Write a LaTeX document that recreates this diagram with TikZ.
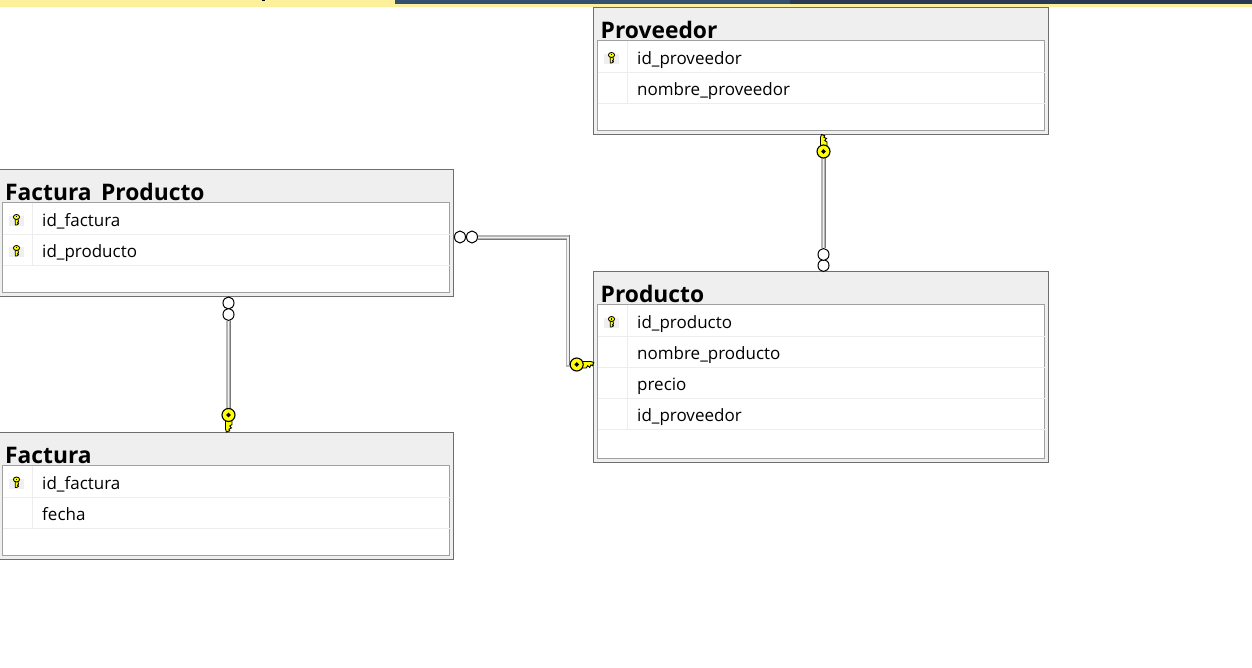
\documentclass[tikz,border=0pt]{standalone}
\usepackage{fontspec}
\setmainfont{Open Sans}
\usetikzlibrary{calc,shapes.geometric}
\definecolor{bandyellow}{HTML}{FDF09B}
\definecolor{bandblue}{HTML}{34506F}
\definecolor{bandnavy}{HTML}{2A3A55}
\definecolor{headgray}{HTML}{EFEFEF}
\definecolor{outergray}{HTML}{6E6E6E}
\definecolor{innergray}{HTML}{A0A0A0}
\definecolor{rowgray}{HTML}{EDEDED}
\definecolor{keyyellow}{HTML}{FFFF00}
\definecolor{linebase}{HTML}{B4B4B4}
\definecolor{linelight}{HTML}{F0F0F0}
\definecolor{linedark}{HTML}{787878}
\tikzset{
  x=1pt,y=-1pt,
  outerbox/.style={draw=outergray,fill=headgray,line width=1pt,anchor=north west,inner sep=0pt,outer sep=0pt},
  innerbox/.style={draw=innergray,fill=white,line width=1pt,anchor=north west,inner sep=0pt,outer sep=0pt},
  rowline/.style={draw=rowgray,line width=1pt},
  titletext/.style={anchor=base west,inner sep=0pt,font=\fontsize{22.8}{26}\selectfont\bfseries},
  rowtext/.style={anchor=base west,inner sep=0pt,text=black,font=\fontsize{17}{20}\selectfont},
  keybg/.style={fill=headgray,draw=none,anchor=center,minimum width=15pt,minimum height=10pt,inner sep=0pt},
  zerocirc/.style={ellipse,draw=black,fill=white,line width=1pt,minimum width=11pt,minimum height=12pt,inner sep=0pt,outer sep=0pt},
  keyhead/.style={circle,draw=black,fill=keyyellow,line width=1.1pt,minimum size=13pt,inner sep=0pt,outer sep=0pt},
  keydot/.style={diamond,fill=black,minimum size=5pt,inner sep=0pt},
  connbase/.style={draw=linebase,line width=4.6pt,line join=miter},
  connlight/.style={draw=linelight,line width=1.6pt,line join=miter},
  conndark/.style={draw=linedark,line width=1.2pt},
  pics/keyshaft/.style={code={
    \draw[fill=keyyellow,draw=black,line width=.9pt,line join=miter]
      (2,-3) -- (14,-3) -- (17,-2) -- (15.8,1.2) -- (14.2,.4) -- (13,3) -- (11,1.2) -- (9.5,3.5) -- (2,3.5) -- cycle;
  }},
  pics/smallkey/.style={code={
    \draw[fill=keyyellow,draw=black,line width=.8pt]
      (-1.3,-1) -- (-1.3,5.5) -- (.2,5.5) -- (2,4.3) -- (1,3.3) -- (2,2.2) -- (1.3,-1) -- cycle;
    \draw[fill=keyyellow,draw=black,line width=.8pt] (0,-2.5) circle[x radius=3.1,y radius=2.5];
    \fill[black] (-.7,-3.2) rectangle (.7,-2);
  }},
}
\newcommand{\dbtable}[7]{%
  \node[outerbox,minimum width=#4pt,minimum height=#5pt] (#1) at (#2,#3) {};
  \node[titletext] (#1title) at (#7,#3+31) {#6};
  \node[innerbox,minimum width=#4pt-8pt,minimum height=#5pt-37pt] (#1inner) at (#2+4,#3+33) {};
}
\newcommand{\rowrule}[2]{\draw[rowline] (#1inner.west |- 0,#2) -- (#1inner.east |- 0,#2);}
\newcommand{\colrule}[3]{\draw[rowline] (#1,#2) -- (#1,#3);}
\begin{document}
\begin{tikzpicture}
\useasboundingbox[fill=white] (0,0) rectangle (1252,668);
% top band
\fill[bandyellow] (0,0) rectangle (1252,7);
\fill[bandblue] (395,0) rectangle (790,4);
\fill[bandnavy] (790,0) rectangle (1252,4);
\fill[black] (262,0) rectangle (265,1.5);

% tables
\dbtable{prov}{593.5}{7.5}{455}{127}{Proveedor}{600.5}
\dbtable{prod}{593.5}{271.5}{455}{190.5}{Producto}{600.5}
\dbtable{fp}{-1.5}{169.5}{455}{126.5}{Factura\_Producto}{5}
\dbtable{fac}{-1.5}{432.5}{455}{126.5}{Factura}{5}

% row rules
\foreach \yy in {72.5,103.5} {\rowrule{prov}{\yy}}
\foreach \yy in {336.5,367.5,398.5,429.5} {\rowrule{prod}{\yy}}
\foreach \yy in {234.5,265.5} {\rowrule{fp}{\yy}}
\foreach \yy in {497.5,528.5} {\rowrule{fac}{\yy}}
\colrule{627.5}{41}{103}
\colrule{627.5}{305}{429}
\colrule{32.5}{203}{265}
\colrule{32.5}{466}{528}

% row key backgrounds and keys
\node[keybg] (kb1) at (611.5,59) {}; \pic at (611.5,57.5) {smallkey};
\node[keybg] (kb2) at (611.5,323) {}; \pic at (611.5,321.5) {smallkey};
\node[keybg] (kb3) at (16.5,221) {}; \pic at (16.5,219.5) {smallkey};
\node[keybg] (kb4) at (16.5,252) {}; \pic at (16.5,250.5) {smallkey};
\node[keybg] (kb5) at (16.5,483.5) {}; \pic at (16.5,482) {smallkey};

% row texts
\node[rowtext] (t1) at (637,64.3) {id\_proveedor};
\node[rowtext] (t2) at (637,95.3) {nombre\_proveedor};
\node[rowtext] (t3) at (637,328.3) {id\_producto};
\node[rowtext] (t4) at (637,359.3) {nombre\_producto};
\node[rowtext] (t5) at (637,390.3) {precio};
\node[rowtext] (t6) at (637,421.3) {id\_proveedor};
\node[rowtext] (t7) at (42,226.3) {id\_factura};
\node[rowtext] (t8) at (42,257.3) {id\_producto};
\node[rowtext] (t9) at (42,489.3) {id\_factura};
\node[rowtext] (t10) at (42,520.3) {fecha};

% relationship ends
\node[zerocirc] (z1a) at (460,237) {};
\node[zerocirc] (z1b) at (472,237) {};
\node[zerocirc] (z2a) at (823.5,265.5) {};
\node[zerocirc] (z2b) at (823.5,254.5) {};
\node[zerocirc] (z3a) at (228.5,303) {};
\node[zerocirc] (z3b) at (228.5,314.5) {};
\coordinate (bend) at (568,365);

% connectors
\draw[connbase] (z1b.east |- 0,237.5) -- (bend |- 0,237.5) -- (bend) -- (571,365);
\draw[connlight] (z1b.east |- 0,237.5) -- (bend |- 0,237.5) -- (bend);
\draw[conndark] (z1b.east |- 0,239.3) -- (566.5,239.3);
\draw[conndark] ($(bend |- 0,235.2)+(1.7,0)$) -- ($(bend)+(1.7,0)$);
\draw[connbase] (823.5,158) -- (z2b.north);
\draw[connlight] (823.5,158) -- (z2b.north);
\draw[conndark] (825.2,158) -- (825.2,248);
\draw[connbase] (z3b.south) -- (228.5,409);
\draw[connlight] (z3b.south) -- (228.5,409);
\draw[conndark] (230.2,320) -- (230.2,409);

% key ends
\pic[rotate=0] at (576.7,364.5) {keyshaft};
\pic[rotate=90] at (823.5,151.5) {keyshaft};
\pic[rotate=-90,yscale=-1] at (228.5,415) {keyshaft};
\node[keyhead] (k1) at (576.7,364.5) {};
\node[keyhead] (k2) at (823.5,151.5) {};
\node[keyhead] (k3) at (228.5,415) {};
\node[keydot] (d1) at (k1.center) {};
\node[keydot] (d2) at (k2.center) {};
\node[keydot] (d3) at (k3.center) {};
\end{tikzpicture}
\end{document}
